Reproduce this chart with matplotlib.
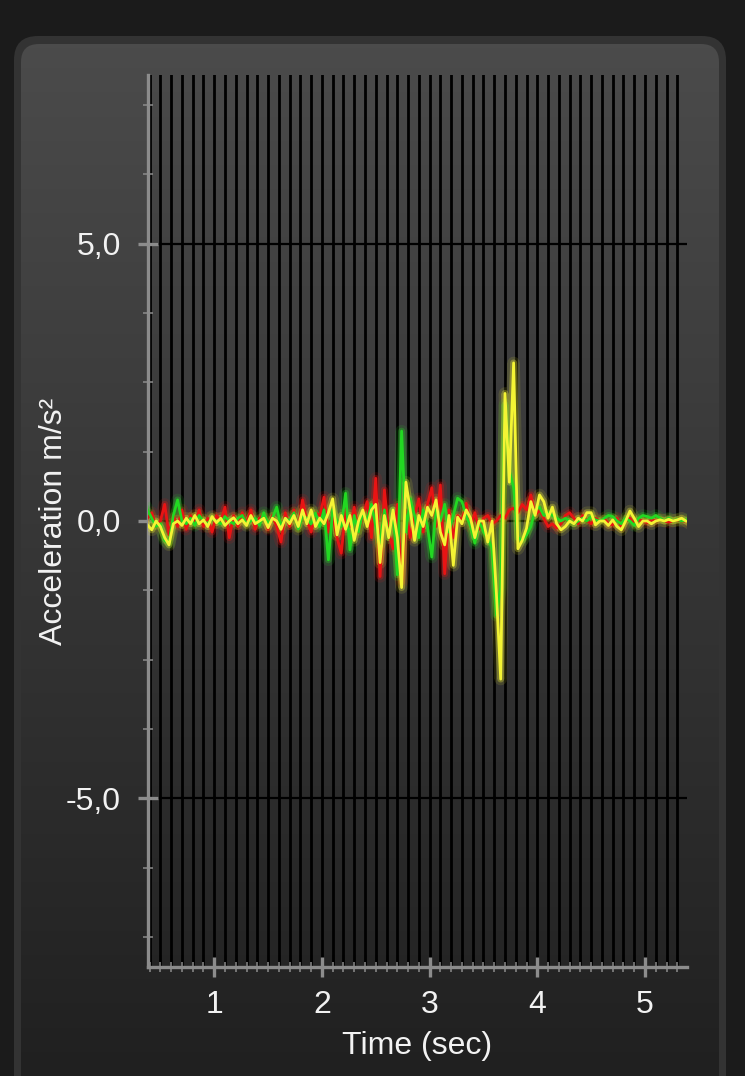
import numpy as np
import matplotlib
matplotlib.use("Agg")
import matplotlib.pyplot as plt
from matplotlib.patches import FancyBboxPatch
from matplotlib.ticker import MultipleLocator, FixedLocator

plt.rcParams['font.family'] = ['Liberation Sans', 'DejaVu Sans']

# ---------------- data ----------------
t_start = 0.38
t_step = 0.04

red = [0.05, 0.15, -0.10, 0.00, 0.30, -0.25, 0.10, -0.10, 0.20, -0.15,
       0.10, -0.05, 0.20, -0.10, 0.05, -0.20, 0.10, 0.00, 0.25, -0.30,
       0.10, -0.10, 0.15, -0.05, 0.20, -0.15, 0.05, 0.10, -0.15, 0.10,
       -0.10, -0.38, 0.15, -0.10, 0.20, -0.15, 0.38, 0.00, -0.20, 0.15,
       0.10, 0.43, -0.20, 0.10, -0.30, -0.58, 0.20, -0.10, 0.25, -0.20,
       0.10, 0.35, -0.30, 0.77, -1.00, 0.56, -0.20, -0.50, 0.30, -1.10,
       0.20, -0.30, 0.10, 0.40, -0.20, 0.30, 0.60, -0.10, 0.65, -0.95,
       0.20, -0.30, 0.10, 0.00, 0.32, -0.10, 0.15, -0.15, 0.05, 0.10,
       -0.05, 0.00, 0.10, 0.05, 0.20, 0.23, 0.15, 0.30, 0.20, 0.47,
       0.10, 0.20, 0.05, -0.10, -0.05, -0.13, -0.05, 0.10, 0.15, 0.05,
       -0.05, 0.10, 0.00, -0.05, 0.05, 0.00, 0.05, -0.05, -0.07, 0.05,
       -0.10, 0.00, 0.05, -0.05, 0.02, 0.00, -0.03, 0.02, 0.00, 0.03,
       0.00, -0.02, 0.00, 0.02, 0.00, 0.00]

green = [0.20, 0.05, -0.10, -0.05, -0.35, -0.40, 0.10, 0.38, 0.00, -0.05,
         0.05, -0.08, 0.10, 0.00, -0.05, 0.05, 0.00, -0.05, 0.08, 0.00,
         -0.05, 0.05, 0.10, -0.05, 0.00, 0.05, -0.08, 0.15, -0.05, 0.05,
         0.25, -0.10, 0.05, 0.00, 0.15, -0.15, 0.10, 0.05, -0.05, 0.15,
         -0.10, 0.20, -0.70, 0.20, 0.00, -0.10, 0.50, -0.52, 0.10, -0.20,
         0.15, 0.00, 0.30, -0.10, -0.40, 0.20, -0.30, 0.20, -0.97, 1.62,
         -0.20, 0.40, 0.10, -0.30, 0.20, -0.10, -0.65, 0.20, 0.00, 0.30,
         -0.20, 0.10, 0.41, 0.35, 0.10, -0.10, -0.40, 0.00, -0.20, -0.30,
         -0.50, -1.70, -1.20, 2.10, 0.90, 0.60, -0.30, -0.35, -0.25, -0.10,
         0.20, 0.25, 0.10, 0.15, 0.10, 0.05, 0.00, 0.05, 0.00, -0.05,
         0.00, 0.05, 0.00, 0.08, 0.02, 0.00, 0.05, 0.10, 0.08, 0.00,
         -0.05, 0.05, 0.00, -0.08, 0.05, 0.10, 0.08, 0.05, 0.10, 0.05,
         0.00, 0.05, 0.00, 0.03, 0.00, 0.02]

yellow = [-0.07, -0.16, 0.00, -0.10, -0.30, -0.43, -0.05, 0.00, -0.08, 0.05,
          -0.05, 0.10, -0.05, 0.02, -0.10, 0.08, -0.03, 0.05, -0.08, 0.00,
          0.06, -0.05, 0.02, -0.08, 0.10, -0.05, 0.00, 0.05, -0.12, 0.05,
          0.00, -0.15, 0.05, -0.05, 0.10, -0.10, 0.20, -0.05, 0.20, -0.10,
          0.05, -0.05, 0.15, 0.40, -0.25, 0.10, -0.15, 0.10, -0.35, 0.00,
          0.20, -0.10, 0.20, 0.30, -0.75, 0.10, -0.30, 0.20, -0.30, -1.20,
          0.70, 0.20, -0.35, 0.10, -0.10, 0.25, 0.10, 0.38, -0.20, -0.43,
          0.10, -0.80, 0.07, -0.05, 0.20, 0.05, -0.30, 0.00, 0.00, -0.38,
          0.00, -1.30, -2.85, 2.30, 0.70, 2.85, -0.50, -0.35, -0.13, 0.35,
          0.10, 0.47, 0.35, 0.05, 0.25, -0.05, -0.16, -0.10, 0.00, -0.05,
          0.05, 0.00, 0.15, 0.15, -0.07, 0.00, 0.00, -0.08, 0.02, -0.10,
          -0.16, 0.00, 0.18, 0.05, -0.10, 0.00, 0.00, -0.05, 0.00, 0.02,
          0.00, 0.03, 0.00, 0.02, 0.05, 0.00]

y_ticks = [5.0, 0.0, -5.0]
y_tick_labels = ['5,0', '0,0', '-5,0']
x_ticks = [1, 2, 3, 4, 5]
x_tick_labels = ['1', '2', '3', '4', '5']
x_label = 'Time (sec)'
y_label = 'Acceleration m/s²'

time = t_start + t_step * np.arange(len(yellow))

# ---------------- figure ----------------
W, H = 745, 1076
fig = plt.figure(figsize=(W / 100, H / 100), dpi=100)
fig.patch.set_facecolor('#1b1b1b')

# background panel (pixel coords)
bg = fig.add_axes([0, 0, 1, 1])
bg.set_xlim(0, W)
bg.set_ylim(H, 0)
bg.axis('off')
outer = FancyBboxPatch((14, 36), 712, 1100, boxstyle='round,pad=0,rounding_size=24',
                       facecolor='#333333', edgecolor='none')
bg.add_patch(outer)
inner = FancyBboxPatch((21, 44), 698, 1100, boxstyle='round,pad=0,rounding_size=18',
                       facecolor='none', edgecolor='none')
bg.add_patch(inner)
grad = np.linspace(0, 1, 256)[:, None]
top_c = np.array([0x4b, 0x4b, 0x4b]) / 255
bot_c = np.array([0x20, 0x20, 0x20]) / 255
img = top_c[None, None, :] * (1 - grad[..., None]) + bot_c[None, None, :] * grad[..., None]
im = bg.imshow(img, extent=[21, 719, 1076, 44], aspect='auto', zorder=1)
im.set_clip_path(inner)

# main axes
ax = fig.add_axes([148 / W, 1 - 967 / H, (687 - 148) / W, (967 - 75) / H])
ax.set_facecolor('none')
ax.set_xlim(0.385, 5.39)
ax.set_ylim(-8.04, 8.04)

ax.xaxis.set_major_locator(FixedLocator(x_ticks))
ax.xaxis.set_minor_locator(MultipleLocator(0.1))
ax.yaxis.set_major_locator(FixedLocator(y_ticks))
ax.yaxis.set_minor_locator(MultipleLocator(1.25))
ax.set_xticklabels(x_tick_labels)
ax.set_yticklabels(y_tick_labels)

ax.xaxis.grid(True, which='both', color='black', lw=2.0)
ax.yaxis.grid(True, which='major', color='black', lw=1.6)
ax.set_axisbelow(True)

spine_c = '#8c8c8c'
for s in ['top', 'right']:
    ax.spines[s].set_visible(False)
for s in ['left', 'bottom']:
    ax.spines[s].set_color(spine_c)
    ax.spines[s].set_linewidth(2.4)

ax.tick_params(which='major', direction='inout', length=15, width=2.4, color=spine_c,
               labelsize=23, labelcolor='#f2f2f2')
ax.tick_params(which='minor', direction='inout', length=7, width=1.1, color=spine_c)
ax.tick_params(axis='y', which='major', pad=12)
ax.tick_params(axis='x', which='major', pad=9)

ax.set_xlabel(x_label, fontsize=23, color='#f2f2f2', labelpad=8)
ax.set_ylabel(y_label, fontsize=23, color='#f2f2f2', labelpad=-2)

# series with glow
series = [(red, '#e81414'), (green, '#22d822'), (yellow, '#f4f434')]
for vals, col in series:
    ax.plot(time, vals, color=col, lw=9, alpha=0.12, solid_joinstyle='round', zorder=3)
    ax.plot(time, vals, color=col, lw=5, alpha=0.30, solid_joinstyle='round', zorder=3)
for vals, col in series:
    ax.plot(time, vals, color=col, lw=2.0, solid_joinstyle='round', zorder=4)

fig.savefig('out.png', dpi=100, facecolor=fig.get_facecolor())
